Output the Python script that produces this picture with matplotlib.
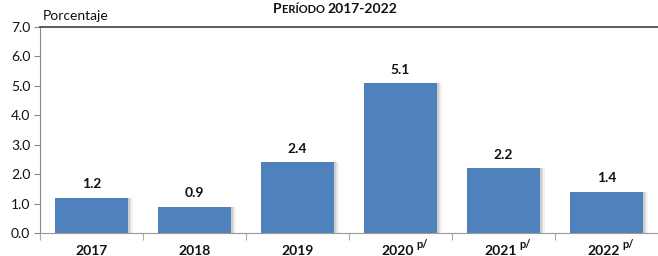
import numpy as np
import matplotlib
matplotlib.use("Agg")
import matplotlib.pyplot as plt

years = ["2017", "2018", "2019", "2020", "2021", "2022"]
values = [1.2, 0.9, 2.4, 5.1, 2.2, 1.4]
preliminary = [False, False, False, True, True, True]
yticks = [0, 1, 2, 3, 4, 5, 6, 7]

plt.rcParams["font.family"] = ["Lato", "DejaVu Sans"]

fig = plt.figure(figsize=(6.58, 2.56), dpi=100)
ax = fig.add_axes([40 / 658, 1 - 233 / 256, 618 / 658, 206 / 256])

x = np.arange(len(years))
bar_color = "#4F81BD"
# soft shadow right of each bar
for dx, alpha in [(0.05, 0.10), (0.035, 0.15), (0.02, 0.2)]:
    ax.bar(x + dx, values, width=0.7, color="#808080", alpha=alpha, zorder=1)
ax.bar(x, values, width=0.7, color=bar_color, zorder=2)

for xi, v in zip(x, values):
    ax.text(xi, v + 0.25, f"{v:.1f}", ha="center", va="bottom",
            fontsize=10, fontweight="bold", color="#111111")

ax.set_xlim(-0.5, len(years) - 0.5)
ax.set_ylim(0, 7)
ax.set_yticks(yticks)
ax.set_yticklabels([f"{t:.1f}" for t in yticks], fontsize=10, color="#111111")
ax.tick_params(axis="y", length=4, color="#888888", pad=3)

ax.set_xticks(np.arange(len(years) + 1) - 0.5)
ax.set_xticklabels([])
ax.tick_params(axis="x", length=5, color="#aaaaaa")

ax.spines["right"].set_visible(False)
ax.spines["left"].set_color("#888888")
ax.spines["bottom"].set_color("#999999")
ax.spines["top"].set_color("#404040")
ax.spines["top"].set_linewidth(1.2)

trans = ax.get_xaxis_transform()
for xi, yr, pre in zip(x, years, preliminary):
    t = ax.text(xi - (0.03 if pre else 0), -0.085, yr, transform=trans,
                ha="center", va="center", fontsize=10, fontweight="bold",
                color="#111111")
    if pre:
        ax.annotate("p/", xy=(1, 0.55), xycoords=t, xytext=(2, 0),
                    textcoords="offset points", ha="left", va="bottom",
                    fontsize=8, fontweight="bold", color="#111111")

fig.text(43 / 658, 1 - 16 / 256, "Porcentaje", fontsize=10, va="center",
         ha="left", color="#111111")

# small-caps title: pieces chained one after another on a common baseline
t1 = fig.text(273 / 658, 1 - 13 / 256, "P", fontsize=10, fontweight="bold",
              va="baseline", ha="left", color="#111111")
t2 = ax.annotate("ERÍODO ", xy=(1, 0), xycoords=t1, fontsize=8,
                 fontweight="bold", color="#111111", ha="left", va="bottom",
                 annotation_clip=False)
ax.annotate("2017-2022", xy=(1, 0), xycoords=t2, fontsize=10,
            fontweight="bold", color="#111111", ha="left", va="bottom",
            annotation_clip=False)

fig.savefig("out.png", dpi=100)
